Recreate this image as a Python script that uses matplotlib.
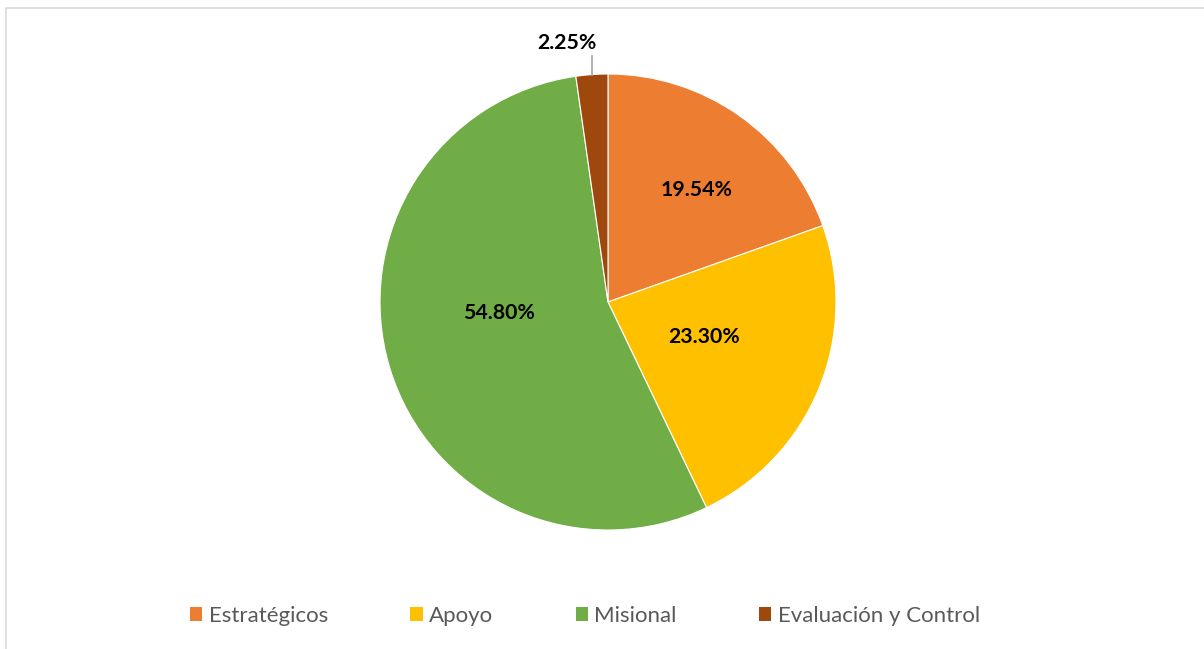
import matplotlib
matplotlib.use("Agg")
import matplotlib.pyplot as plt
from matplotlib.patches import Patch, Rectangle
import numpy as np

categories = ["Estratégicos", "Apoyo", "Misional", "Evaluación y Control"]
values = [19.54, 23.30, 54.80, 2.25]
colors = ["#ED7D31", "#FFC000", "#70AD47", "#9E480E"]

plt.rcParams['font.family'] = ['Lato', 'DejaVu Sans']

W, H = 1204, 649
fig = plt.figure(figsize=(W / 100, H / 100), dpi=100)

# border (only top and left visible)
fig.patches.append(Rectangle((6 / W, -0.2), 1.2, 1.2 - 8 / H, transform=fig.transFigure,
                             fill=False, edgecolor="#D9D9D9", linewidth=1.2))

cx, cy, r = 608, 302, 228
ax = fig.add_axes([(cx - r) / W, (H - cy - r) / H, 2 * r / W, 2 * r / H])
wedges, _ = ax.pie(values, colors=colors, startangle=90, counterclock=False,
                   radius=1, wedgeprops=dict(edgecolor="white", linewidth=0.8))
ax.set_xlim(-1, 1)
ax.set_ylim(-1, 1)
ax.set_aspect("equal")
ax.axis("off")

# label positions (fraction of radius) for the inner labels
inner_pos = {0: (0.39, 0.49), 1: (0.42, -0.155), 2: (-0.48, -0.05)}
for i, v in enumerate(values):
    txt = f"{v:.2f}%"
    if i in inner_pos:
        x, y = inner_pos[i]
        ax.text(x, y, txt, ha="center", va="center", fontsize=15.3,
                fontweight="bold", color="black")
    else:
        w = wedges[i]
        ang = np.deg2rad((w.theta1 + w.theta2) / 2)
        x0, y0 = np.cos(ang), np.sin(ang)
        ax.plot([x0, x0], [y0, 1.08], color="#A6A6A6", linewidth=1.2, clip_on=False)
        ax.text(x0 - 0.11, 1.135, txt, ha="center", va="center", fontsize=15.3,
                fontweight="bold", color="black", clip_on=False)

handles = [Patch(facecolor=c, edgecolor="none") for c in colors]
leg = fig.legend(handles, categories, loc="center", bbox_to_anchor=(585 / W, 1 - 616 / H),
                 ncol=4, frameon=False, fontsize=16, handlelength=0.55,
                 handleheight=0.55, handletextpad=0.3, columnspacing=3.7)
for t in leg.get_texts():
    t.set_color("#595959")

fig.savefig("out.png", dpi=100)
